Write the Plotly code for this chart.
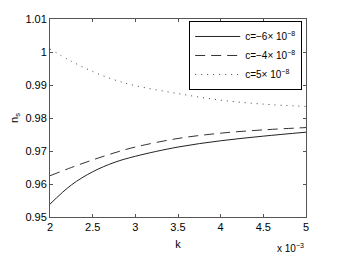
import plotly.graph_objects as go

k = [2.0, 2.25, 2.5, 2.75, 3.0, 3.5, 4.0, 4.5, 5.0]
ns_c_m6 = [0.9539, 0.9597, 0.9637, 0.9665, 0.9684, 0.9712, 0.9731, 0.9745, 0.9757]
ns_c_m4 = [0.9625, 0.9650, 0.9673, 0.9694, 0.9712, 0.9738, 0.9754, 0.9764, 0.9771]
ns_c_p5 = [1.0009, 0.9972, 0.9941, 0.9916, 0.9898, 0.9874, 0.9854, 0.9842, 0.9835]
labels = ["c=−6× 10<sup>−8</sup>", "c=−4× 10<sup>−8</sup>", "c=5× 10<sup>−8</sup>"]
x_ticks = [2, 2.5, 3, 3.5, 4, 4.5, 5]
y_ticks = [0.95, 0.96, 0.97, 0.98, 0.99, 1.0, 1.01]

font = "Liberation Sans, Arial, sans-serif"
fig = go.Figure()
fig.add_trace(go.Scatter(x=k, y=ns_c_m6, mode="lines", name=labels[0],
                         line=dict(color="#222", width=1, shape="spline", smoothing=1.0)))
fig.add_trace(go.Scatter(x=k, y=ns_c_m4, mode="lines", name=labels[1],
                         line=dict(color="#333", width=1, dash="10px,6px", shape="spline", smoothing=1.0)))
fig.add_trace(go.Scatter(x=k, y=ns_c_p5, mode="lines", name=labels[2],
                         line=dict(color="#444", width=1, dash="1px,5px", shape="spline", smoothing=1.0)))

axis_common = dict(showline=True, linecolor="#555", linewidth=1, mirror="ticks",
                   ticks="inside", ticklen=3, tickcolor="#555", showgrid=False,
                   zeroline=False, automargin=False,
                   tickfont=dict(size=11, color="black", family=font))
fig.update_xaxes(range=[2, 5], tickvals=x_ticks, ticktext=[f"{t:g}" for t in x_ticks],
                 title=dict(text="k", font=dict(size=11, color="black", family=font), standoff=8),
                 **axis_common)
fig.update_yaxes(range=[0.95, 1.01], tickvals=y_ticks, ticktext=[f"{t:g}" for t in y_ticks],
                 title=dict(text="n<sub>s</sub>", font=dict(size=11, color="black", family=font), standoff=6),
                 **axis_common)
fig.add_annotation(text="x 10<sup>−3</sup>", xref="paper", yref="paper", x=1.0, y=-0.155,
                   xanchor="right", yanchor="middle", showarrow=False,
                   font=dict(size=10, color="black", family=font))
fig.update_layout(width=339, height=256, margin=dict(l=42, r=41, t=11, b=47, autoexpand=False),
                  paper_bgcolor="white", plot_bgcolor="white",
                  font=dict(family=font, size=11, color="black"),
                  legend=dict(x=0.985, y=0.99, xanchor="right", yanchor="top",
                              bgcolor="white", bordercolor="black", borderwidth=1,
                              font=dict(size=10, color="black", family=font),
                              itemwidth=45, tracegroupgap=0))
fig.write_html("out.html")
